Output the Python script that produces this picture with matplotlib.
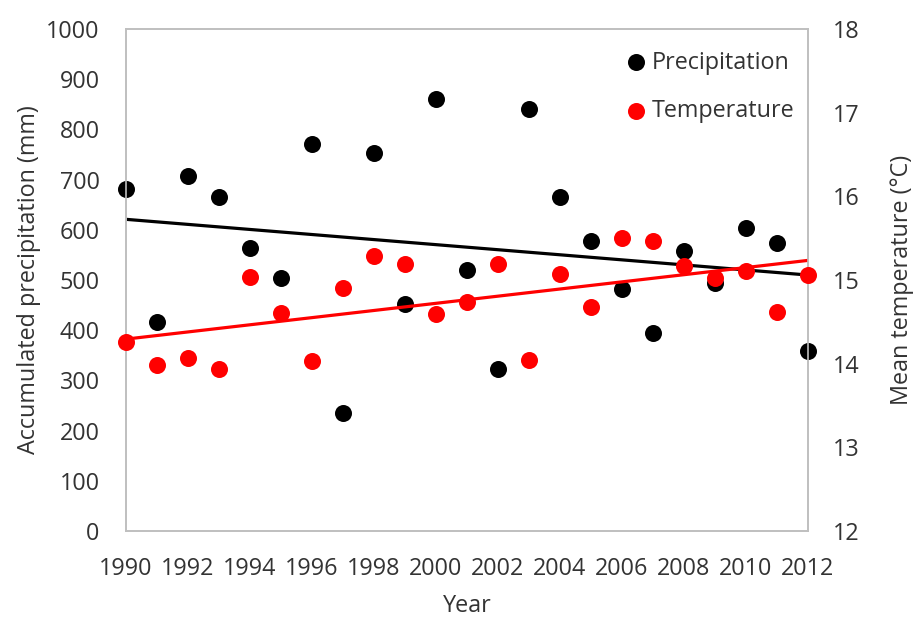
import numpy as np
import matplotlib
matplotlib.use("Agg")
import matplotlib.pyplot as plt

plt.rcParams['font.family'] = ['Open Sans', 'DejaVu Sans']

years = np.arange(1990, 2013)
precip = [681, 417, 708, 666, 564, 505, 772, 236, 753, 453, 860, 521,
          323, 841, 666, 577, 483, 394, 557, 495, 604, 574, 358]
temp = [14.26, 13.99, 14.07, 13.94, 15.04, 14.61, 14.03, 14.91, 15.29, 15.19,
        14.59, 14.74, 15.19, 14.05, 15.07, 14.68, 15.50, 15.47, 15.17, 15.02,
        15.11, 14.62, 15.06]
year_ticks = list(range(1990, 2013, 2))
precip_ticks = list(range(0, 1001, 100))
temp_ticks = list(range(12, 19))

txt = '#333333'
frame = '#bfbfbf'
fs = 16.8

fig = plt.figure(figsize=(9.16, 6.19), dpi=100)
ax = fig.add_axes([0.1376, 0.142, 0.7444, 0.811])
ax2 = ax.twinx()

# precipitation dots and linear trend
ax.scatter(years, precip, s=150, color='black', zorder=3, clip_on=False,
           linewidths=0, label='Precipitation')
pc = np.polyfit(years, precip, 1)
ax.plot(years, np.polyval(pc, years), color='black', lw=2.3, zorder=2)

# temperature dots and linear trend on the right axis
ax2.scatter(years, temp, s=150, color='#ff0000', zorder=3, clip_on=False,
            linewidths=0, label='Temperature')
tc = np.polyfit(years, temp, 1)
ax2.plot(years, np.polyval(tc, years), color='#ff0000', lw=2.3, zorder=2)

ax.set_xlim(1990, 2012)
ax.set_ylim(0, 1000)
ax2.set_ylim(12, 18)
ax.set_xticks(year_ticks)
ax.set_yticks(precip_ticks)
ax2.set_yticks(temp_ticks)

for a in (ax, ax2):
    for sp in a.spines.values():
        sp.set_color(frame)
        sp.set_linewidth(1.2)
    a.tick_params(length=0, labelsize=fs, colors=txt)
ax.tick_params(axis='x', pad=19)
ax.tick_params(axis='y', pad=19)
ax2.tick_params(axis='y', pad=18)

ax.set_xlabel('Year', fontsize=fs, color=txt, labelpad=9)
ax.set_ylabel('Accumulated precipitation (mm)', fontsize=fs, color=txt, labelpad=4)
ax2.set_ylabel('Mean temperature (°C)', fontsize=fs, color=txt, labelpad=22)

h1, l1 = ax.get_legend_handles_labels()
h2, l2 = ax2.get_legend_handles_labels()
leg = ax2.legend(h1 + h2, l1 + l2, loc='upper right', bbox_to_anchor=(1.0, 0.985),
                 frameon=False, fontsize=fs, handletextpad=-0.35, labelspacing=1.05,
                 borderaxespad=0.2)
for t in leg.get_texts():
    t.set_color(txt)

fig.savefig('out.png', dpi=100)
